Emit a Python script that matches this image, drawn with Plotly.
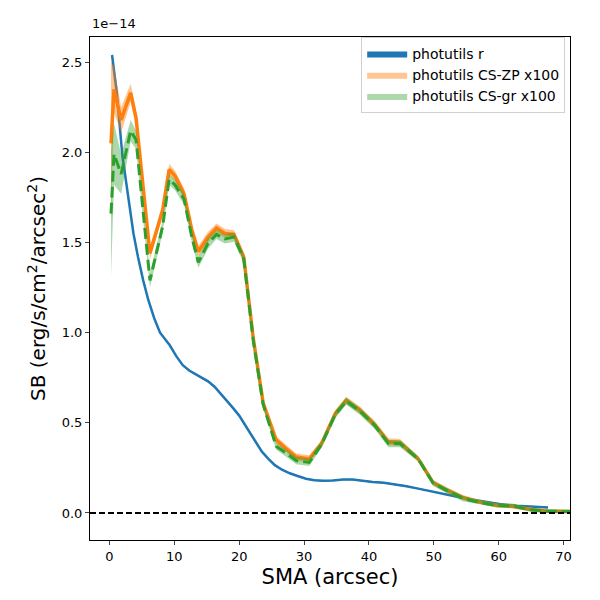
import plotly.graph_objects as go

# photutils r profile (SB in units of 1e-14 erg/s/cm2/arcsec2)
sma_r = [0.4, 1.1, 2.0, 3.0, 3.7, 4.4, 5.2, 6.0, 6.9, 7.8, 9.3, 10.3, 11.3, 12.3, 13.2,
         14.2, 15.2, 16.2, 17.2, 18.2, 19.1, 20.0, 20.9, 21.8, 22.6, 23.5, 24.5, 25.5,
         26.6, 27.8, 29.0, 30.3, 31.6, 33.0, 34.5, 36.0, 37.5, 39.0, 40.6, 42.3, 44.0,
         45.8, 47.6, 49.5, 51.5, 53.6, 55.8, 58.0, 60.3, 62.7, 65.1, 67.6]
sb_r = [2.54, 2.34, 1.98, 1.72, 1.55, 1.42, 1.29, 1.18, 1.08, 1.00, 0.93, 0.87, 0.82,
        0.79, 0.77, 0.75, 0.73, 0.70, 0.66, 0.62, 0.58, 0.54, 0.49, 0.44, 0.39, 0.34,
        0.30, 0.265, 0.24, 0.22, 0.205, 0.19, 0.182, 0.178, 0.18, 0.185, 0.185, 0.178,
        0.172, 0.168, 0.16, 0.148, 0.135, 0.12, 0.105, 0.09, 0.075, 0.06, 0.048, 0.04,
        0.035, 0.03]
err_r = [0.008, 0.008, 0.008, 0.007, 0.007, 0.007, 0.006, 0.006, 0.006, 0.006, 0.005,
         0.005, 0.005, 0.005, 0.005, 0.005, 0.005, 0.005, 0.005, 0.005, 0.005, 0.005,
         0.005, 0.005, 0.004, 0.004, 0.004, 0.004, 0.004, 0.004, 0.004, 0.004, 0.004,
         0.004, 0.004, 0.004, 0.004, 0.004, 0.004, 0.004, 0.004, 0.004, 0.004, 0.004,
         0.004, 0.004, 0.004, 0.004, 0.004, 0.004, 0.004, 0.004]

# photutils CS profiles (x100)
sma_cs = [0.24, 0.7, 1.8, 3.27, 4.1, 6.24, 8.2, 9.2, 10.1, 11.5, 12.7, 13.7, 15.2, 16.5,
          17.8, 19.2, 20.7, 22.2, 23.7, 25.7, 27.3, 28.8, 30.8, 32.7, 34.8, 36.5, 38.6,
          40.9, 43.0, 44.8, 47.6, 49.9, 52.0, 54.5, 57.1, 59.7, 62.2, 64.8, 67.4, 71.0]
sb_zp = [2.05, 2.35, 2.18, 2.33, 2.19, 1.44, 1.68, 1.905, 1.87, 1.77, 1.57, 1.45, 1.53,
         1.58, 1.55, 1.545, 1.42, 0.96, 0.61, 0.405, 0.355, 0.31, 0.30, 0.385, 0.55,
         0.625, 0.57, 0.49, 0.395, 0.39, 0.30, 0.168, 0.127, 0.085, 0.06, 0.042, 0.037,
         0.02, 0.01, 0.008]
err_zp = [0.45, 0.13, 0.07, 0.05, 0.04, 0.035, 0.03, 0.03, 0.03, 0.03, 0.03, 0.03, 0.03,
          0.025, 0.025, 0.025, 0.025, 0.02, 0.02, 0.02, 0.02, 0.02, 0.02, 0.02, 0.02,
          0.02, 0.02, 0.02, 0.02, 0.02, 0.015, 0.015, 0.015, 0.015, 0.012, 0.012, 0.012,
          0.01, 0.01, 0.01]
sb_gr = [1.66, 1.99, 1.88, 2.12, 2.07, 1.29, 1.59, 1.85, 1.82, 1.74, 1.53, 1.39, 1.495,
         1.545, 1.52, 1.53, 1.41, 0.95, 0.60, 0.37, 0.33, 0.29, 0.28, 0.38, 0.545, 0.62,
         0.565, 0.485, 0.385, 0.385, 0.30, 0.165, 0.125, 0.08, 0.058, 0.042, 0.04, 0.018,
         0.01, 0.008]
err_gr = [0.35, 0.17, 0.11, 0.06, 0.05, 0.04, 0.035, 0.03, 0.03, 0.03, 0.03, 0.03, 0.03,
          0.025, 0.025, 0.025, 0.025, 0.02, 0.02, 0.02, 0.02, 0.02, 0.02, 0.02, 0.02,
          0.02, 0.02, 0.02, 0.02, 0.02, 0.015, 0.015, 0.015, 0.015, 0.012, 0.012, 0.012,
          0.01, 0.01, 0.01]

x_ticks = [0, 10, 20, 30, 40, 50, 60, 70]
y_ticks = [0.0, 0.5, 1.0, 1.5, 2.0, 2.5]

BLUE = "#1f77b4"
ORANGE = "#ff7f0e"
GREEN = "#2ca02c"


def band(x, y, err, name, fillcolor):
    up = [v + e for v, e in zip(y, err)]
    dn = [v - e for v, e in zip(y, err)]
    return go.Scatter(x=list(x) + list(x)[::-1], y=up + dn[::-1], fill="toself",
                      fillcolor=fillcolor, mode="lines", line=dict(width=0),
                      name=name, hoverinfo="skip")


fig = go.Figure()
fig.add_trace(band(sma_r, sb_r, err_r, "photutils r", BLUE))
fig.add_trace(go.Scatter(x=sma_r, y=sb_r, mode="lines", line=dict(color=BLUE, width=2.5),
                         showlegend=False))
fig.add_trace(band(sma_cs, sb_zp, err_zp, "photutils CS-ZP x100", "rgba(255,127,14,0.45)"))
fig.add_trace(go.Scatter(x=sma_cs, y=sb_zp, mode="lines", line=dict(color=ORANGE, width=3.5),
                         showlegend=False))
fig.add_trace(band(sma_cs, sb_gr, err_gr, "photutils CS-gr x100", "rgba(44,160,44,0.4)"))
fig.add_trace(go.Scatter(x=sma_cs, y=sb_gr, mode="lines",
                         line=dict(color=GREEN, width=3, dash="11px,5px"),
                         showlegend=False))

fig.add_hline(y=0, line=dict(color="black", width=2, dash="6px,3px"))

fig.update_layout(
    width=600, height=600,
    margin=dict(l=82, r=38, t=29, b=68),
    plot_bgcolor="white", paper_bgcolor="white",
    font=dict(family="DejaVu Sans", size=13, color="black"),
    showlegend=True,
    legend=dict(x=0.99, y=1.0, xanchor="right", yanchor="top",
                bgcolor="rgba(255,255,255,0.8)", bordercolor="#d0d0d0", borderwidth=1,
                font=dict(size=14), tracegroupgap=0, itemwidth=40),
    annotations=[dict(text="1e\u221214", x=0, y=1.008, xref="paper", yref="paper",
                      xanchor="left", yanchor="bottom", showarrow=False,
                      font=dict(size=13))],
)
fig.update_xaxes(range=[-3, 71], tickvals=x_ticks, ticks="outside", ticklen=4,
                 showline=True, linecolor="black", linewidth=1, mirror=True,
                 showgrid=False, zeroline=False, automargin=False,
                 title=dict(text="SMA (arcsec)", font=dict(size=21), standoff=6))
fig.update_yaxes(range=[-0.15, 2.64], tickvals=y_ticks, tickformat=".1f", ticks="outside",
                 ticklen=4, showline=True, linecolor="black", linewidth=1, mirror=True,
                 showgrid=False, zeroline=False, automargin=False,
                 title=dict(text="SB (erg/s/cm<sup>2</sup>/arcsec<sup>2</sup>)",
                            font=dict(size=20), standoff=10))

fig.write_html("out.html")
